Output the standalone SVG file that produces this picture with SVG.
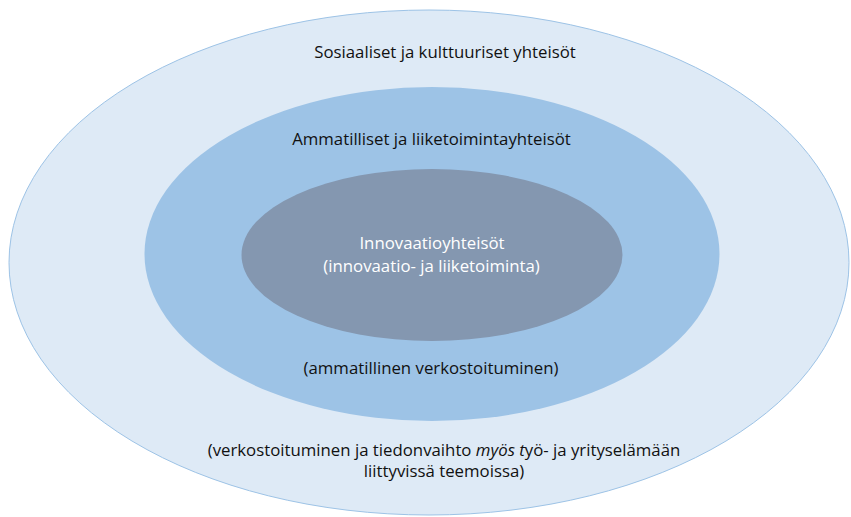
<svg xmlns="http://www.w3.org/2000/svg" width="851" height="517" viewBox="0 0 851 517">
<style>
text { font-family: "Open Sans", "Liberation Sans", sans-serif; font-size: 16.8px; text-anchor: middle; fill: #111111; }
.light { fill: #ffffff; }
</style>
<rect width="851" height="517" fill="#ffffff"/>
<g id="social">
<ellipse cx="429" cy="262.5" rx="420" ry="252.5" fill="#DEEAF6" stroke="#9DC3E6" stroke-width="1"/>
<text x="445" y="58">Sosiaaliset ja kulttuuriset yhteisöt</text>
<text x="444" y="456">(verkostoituminen ja tiedonvaihto <tspan font-style="italic">myös t</tspan>yö- ja yrityselämään</text>
<text x="444" y="477">liittyvissä teemoissa)</text>
</g>
<g id="professional">
<ellipse cx="432" cy="254" rx="287.5" ry="167" fill="#9DC3E6"/>
<text x="431.5" y="145">Ammatilliset ja liiketoimintayhteisöt</text>
<text x="431" y="374">(ammatillinen verkostoituminen)</text>
</g>
<g id="innovation">
<ellipse cx="432" cy="255" rx="190.5" ry="86" fill="#8497B0"/>
<text class="light" x="432" y="249">Innovaatioyhteisöt</text>
<text class="light" x="431.5" y="272">(innovaatio- ja liiketoiminta)</text>
</g>
</svg>
